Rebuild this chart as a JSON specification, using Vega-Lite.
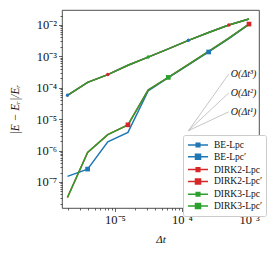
{
  "$schema": "https://vega.github.io/schema/vega-lite/v6.json",
  "autosize": {"type": "none"},
  "width": 197,
  "height": 198,
  "padding": {"left": 62, "top": 10, "right": 13, "bottom": 48},
  "background": "white",
  "config": {
    "view": {"stroke": "#222", "strokeWidth": 0.8},
    "font": "Liberation Serif",
    "axis": {"domain": false, "grid": false, "labelFont": "Liberation Serif", "titleFont": "Liberation Serif", "tickColor": "#222", "labelColor": "#111", "titleColor": "#111"}
  },
  "datasets": {
    "runs": [
      {"s": "BE-Lpc", "dt": 1.953125e-6, "e": 5.75e-5, "m": 1},
      {"s": "BE-Lpc", "dt": 3.90625e-6, "e": 1.48e-4, "m": 0},
      {"s": "BE-Lpc", "dt": 7.8125e-6, "e": 2.63e-4, "m": 0},
      {"s": "BE-Lpc", "dt": 1.5625e-5, "e": 5.2e-4, "m": 0},
      {"s": "BE-Lpc", "dt": 3.125e-5, "e": 9.5e-4, "m": 0},
      {"s": "BE-Lpc", "dt": 6.25e-5, "e": 1.74e-3, "m": 0},
      {"s": "BE-Lpc", "dt": 1.25e-4, "e": 3.24e-3, "m": 1},
      {"s": "BE-Lpc", "dt": 2.5e-4, "e": 5.75e-3, "m": 0},
      {"s": "BE-Lpc", "dt": 5e-4, "e": 1.0e-2, "m": 0},
      {"s": "BE-Lpc", "dt": 1e-3, "e": 1.55e-2, "m": 0},
      {"s": "BE-Lpc′", "dt": 1.953125e-6, "e": 1.51e-7, "m": 0},
      {"s": "BE-Lpc′", "dt": 3.90625e-6, "e": 2.57e-7, "m": 1},
      {"s": "BE-Lpc′", "dt": 7.8125e-6, "e": 1.9e-6, "m": 0},
      {"s": "BE-Lpc′", "dt": 1.5625e-5, "e": 3.8e-6, "m": 0},
      {"s": "BE-Lpc′", "dt": 3.125e-5, "e": 7.9e-5, "m": 0},
      {"s": "BE-Lpc′", "dt": 6.25e-5, "e": 2.09e-4, "m": 0},
      {"s": "BE-Lpc′", "dt": 1.25e-4, "e": 5.4e-4, "m": 0},
      {"s": "BE-Lpc′", "dt": 2.5e-4, "e": 1.38e-3, "m": 1},
      {"s": "BE-Lpc′", "dt": 5e-4, "e": 3.7e-3, "m": 0},
      {"s": "BE-Lpc′", "dt": 1e-3, "e": 1.05e-2, "m": 0},
      {"s": "DIRK2-Lpc", "dt": 1.953125e-6, "e": 5.75e-5, "m": 0},
      {"s": "DIRK2-Lpc", "dt": 3.90625e-6, "e": 1.48e-4, "m": 0},
      {"s": "DIRK2-Lpc", "dt": 7.8125e-6, "e": 2.63e-4, "m": 1},
      {"s": "DIRK2-Lpc", "dt": 1.5625e-5, "e": 5.2e-4, "m": 0},
      {"s": "DIRK2-Lpc", "dt": 3.125e-5, "e": 9.5e-4, "m": 0},
      {"s": "DIRK2-Lpc", "dt": 6.25e-5, "e": 1.74e-3, "m": 0},
      {"s": "DIRK2-Lpc", "dt": 1.25e-4, "e": 3.24e-3, "m": 0},
      {"s": "DIRK2-Lpc", "dt": 2.5e-4, "e": 5.75e-3, "m": 0},
      {"s": "DIRK2-Lpc", "dt": 5e-4, "e": 1.0e-2, "m": 1},
      {"s": "DIRK2-Lpc", "dt": 1e-3, "e": 1.55e-2, "m": 0},
      {"s": "DIRK2-Lpc′", "dt": 1.953125e-6, "e": 3.2e-8, "m": 0},
      {"s": "DIRK2-Lpc′", "dt": 3.90625e-6, "e": 8.7e-7, "m": 0},
      {"s": "DIRK2-Lpc′", "dt": 7.8125e-6, "e": 3.2e-6, "m": 0},
      {"s": "DIRK2-Lpc′", "dt": 1.5625e-5, "e": 6.6e-6, "m": 1},
      {"s": "DIRK2-Lpc′", "dt": 3.125e-5, "e": 8.5e-5, "m": 0},
      {"s": "DIRK2-Lpc′", "dt": 6.25e-5, "e": 2.14e-4, "m": 0},
      {"s": "DIRK2-Lpc′", "dt": 1.25e-4, "e": 5.6e-4, "m": 0},
      {"s": "DIRK2-Lpc′", "dt": 2.5e-4, "e": 1.45e-3, "m": 0},
      {"s": "DIRK2-Lpc′", "dt": 5e-4, "e": 3.8e-3, "m": 0},
      {"s": "DIRK2-Lpc′", "dt": 1e-3, "e": 1.07e-2, "m": 1},
      {"s": "DIRK3-Lpc", "dt": 1.953125e-6, "e": 5.75e-5, "m": 0},
      {"s": "DIRK3-Lpc", "dt": 3.90625e-6, "e": 1.48e-4, "m": 0},
      {"s": "DIRK3-Lpc", "dt": 7.8125e-6, "e": 2.63e-4, "m": 0},
      {"s": "DIRK3-Lpc", "dt": 1.5625e-5, "e": 5.2e-4, "m": 0},
      {"s": "DIRK3-Lpc", "dt": 3.125e-5, "e": 9.5e-4, "m": 1},
      {"s": "DIRK3-Lpc", "dt": 6.25e-5, "e": 1.74e-3, "m": 0},
      {"s": "DIRK3-Lpc", "dt": 1.25e-4, "e": 3.24e-3, "m": 0},
      {"s": "DIRK3-Lpc", "dt": 2.5e-4, "e": 5.75e-3, "m": 0},
      {"s": "DIRK3-Lpc", "dt": 5e-4, "e": 1.0e-2, "m": 0},
      {"s": "DIRK3-Lpc", "dt": 1e-3, "e": 1.55e-2, "m": 0},
      {"s": "DIRK3-Lpc′", "dt": 1.953125e-6, "e": 3.2e-8, "m": 0},
      {"s": "DIRK3-Lpc′", "dt": 3.90625e-6, "e": 8.7e-7, "m": 0},
      {"s": "DIRK3-Lpc′", "dt": 7.8125e-6, "e": 3.2e-6, "m": 0},
      {"s": "DIRK3-Lpc′", "dt": 1.5625e-5, "e": 6.6e-6, "m": 0},
      {"s": "DIRK3-Lpc′", "dt": 3.125e-5, "e": 8.5e-5, "m": 0},
      {"s": "DIRK3-Lpc′", "dt": 6.25e-5, "e": 2.14e-4, "m": 1},
      {"s": "DIRK3-Lpc′", "dt": 1.25e-4, "e": 5.6e-4, "m": 0},
      {"s": "DIRK3-Lpc′", "dt": 2.5e-4, "e": 1.45e-3, "m": 0},
      {"s": "DIRK3-Lpc′", "dt": 5e-4, "e": 3.8e-3, "m": 0},
      {"s": "DIRK3-Lpc′", "dt": 1e-3, "e": 1.07e-2, "m": 0}
    ],
    "refs": [
      {"o": "1", "dt": 1.25e-4, "e": 4.3e-6},
      {"o": "1", "dt": 5e-4, "e": 1.72e-5},
      {"o": "2", "dt": 1.25e-4, "e": 4.3e-6},
      {"o": "2", "dt": 5e-4, "e": 6.9e-5},
      {"o": "3", "dt": 1.25e-4, "e": 4.3e-6},
      {"o": "3", "dt": 5e-4, "e": 2.75e-4}
    ],
    "reflabels": [
      {"t": "O(Δt¹)", "dt": 5e-4, "e": 1.72e-5},
      {"t": "O(Δt²)", "dt": 5e-4, "e": 6.9e-5},
      {"t": "O(Δt³)", "dt": 5e-4, "e": 2.75e-4}
    ]
  },
  "layer": [
    {
      "data": {"name": "refs"},
      "mark": {"type": "line", "color": "#a0a0a0", "strokeWidth": 0.6},
      "encoding": {
        "x": {"field": "dt", "type": "quantitative"},
        "y": {"field": "e", "type": "quantitative"},
        "detail": {"field": "o"}
      }
    },
    {
      "data": {"name": "reflabels"},
      "mark": {"type": "text", "align": "left", "baseline": "middle", "dx": 2, "fontSize": 10, "fontStyle": "italic", "font": "Liberation Serif", "color": "#111"},
      "encoding": {
        "x": {"field": "dt", "type": "quantitative"},
        "y": {"field": "e", "type": "quantitative"},
        "text": {"field": "t"}
      }
    },
    {
      "data": {"name": "runs"},
      "mark": {"type": "line", "strokeWidth": 1.5},
      "encoding": {
        "x": {
          "field": "dt", "type": "quantitative",
          "scale": {"type": "log", "domain": [1.62e-6, 1.41e-3], "nice": false},
          "axis": {
            "title": "Δt", "titleFontSize": 11, "titleFontStyle": "italic", "titleFontWeight": "normal",
            "titleY": 31, "titleBaseline": "middle",
            "values": [2e-6,3e-6,4e-6,5e-6,6e-6,7e-6,8e-6,9e-6,1e-5,2e-5,3e-5,4e-5,5e-5,6e-5,7e-5,8e-5,9e-5,1e-4,2e-4,3e-4,4e-4,5e-4,6e-4,7e-4,8e-4,9e-4,1e-3],
            "labelExpr": "abs(log(datum.value)/LN10 - round(log(datum.value)/LN10)) > 0.001 ? '' : '10⁻' + ['⁰','¹','²','³','⁴','⁵','⁶','⁷','⁸','⁹'][-round(log(datum.value)/LN10)]",
            "labelOverlap": false, "labelBound": false, "labelFontSize": 12.5, "labelPadding": 2,
            "tickSize": {"condition": {"test": "abs(log(datum.value)/LN10 - round(log(datum.value)/LN10)) < 0.001", "value": 3.5}, "value": 2},
            "tickWidth": 0.7
          }
        },
        "y": {
          "field": "e", "type": "quantitative",
          "scale": {"type": "log", "domain": [1.48e-8, 3.0e-2], "nice": false},
          "axis": {
            "title": "|E − Eᵣ|/Eᵣ", "titleFontSize": 11.5, "titleFontStyle": "italic", "titleFontWeight": "normal",
            "titleX": -47, "titleY": 99, "titleBaseline": "middle", "titleAngle": -90,
            "values": [2e-8,3e-8,4e-8,5e-8,6e-8,7e-8,8e-8,9e-8,1e-7,2e-7,3e-7,4e-7,5e-7,6e-7,7e-7,8e-7,9e-7,1e-6,2e-6,3e-6,4e-6,5e-6,6e-6,7e-6,8e-6,9e-6,1e-5,2e-5,3e-5,4e-5,5e-5,6e-5,7e-5,8e-5,9e-5,1e-4,2e-4,3e-4,4e-4,5e-4,6e-4,7e-4,8e-4,9e-4,1e-3,2e-3,3e-3,4e-3,5e-3,6e-3,7e-3,8e-3,9e-3,1e-2,2e-2],
            "labelExpr": "abs(log(datum.value)/LN10 - round(log(datum.value)/LN10)) > 0.001 ? '' : '10⁻' + ['⁰','¹','²','³','⁴','⁵','⁶','⁷','⁸','⁹'][-round(log(datum.value)/LN10)]",
            "labelOverlap": false, "labelBound": false, "labelFontSize": 12.5, "labelPadding": 2,
            "tickSize": {"condition": {"test": "abs(log(datum.value)/LN10 - round(log(datum.value)/LN10)) < 0.001", "value": 3.5}, "value": 2},
            "tickWidth": 0.7
          }
        },
        "color": {
          "field": "s", "type": "nominal",
          "scale": {
            "domain": ["BE-Lpc", "BE-Lpc′", "DIRK2-Lpc", "DIRK2-Lpc′", "DIRK3-Lpc", "DIRK3-Lpc′"],
            "range": ["#1f77b4", "#1f77b4", "#d62728", "#d62728", "#2ca02c", "#2ca02c"]
          },
          "legend": {
            "title": null, "orient": "none", "legendX": 121, "legendY": 125,
            "symbolType": "M-1,0L3,0",
            "symbolSize": 100, "symbolStrokeWidth": 1.5,
            "labelFont": "Liberation Serif", "labelFontSize": 9.5, "labelColor": "#111", "labelOffset": 15,
            "rowPadding": 0.8, "padding": 4,
            "strokeColor": "#cccccc", "fillColor": "white", "cornerRadius": 2,
            "encode": {
              "symbols": {
                "update": {
                  "shape": {"signal": "indexof(datum.value, '′') >= 0 ? 'M-1,0L3,0M0.5,-0.5L1.5,-0.5L1.5,0.5L0.5,0.5Z' : 'M-1,0L3,0M0.64,-0.36L1.36,-0.36L1.36,0.36L0.64,0.36Z'"},
                  "size": {"value": 100},
                  "fill": {"scale": "color", "field": "value"},
                  "fillOpacity": {"value": 1},
                  "opacity": {"value": 1}
                }
              }
            }
          }
        }
      }
    },
    {
      "data": {"name": "runs"},
      "transform": [{"filter": "datum.m == 1 && indexof(datum.s, '′') < 0"}],
      "mark": {"type": "point", "shape": "circle", "size": 12, "filled": true, "opacity": 1, "strokeWidth": 0},
      "encoding": {
        "x": {"field": "dt", "type": "quantitative"},
        "y": {"field": "e", "type": "quantitative"},
        "color": {"field": "s", "type": "nominal", "legend": null}
      }
    },
    {
      "data": {"name": "runs"},
      "transform": [{"filter": "datum.m == 1 && indexof(datum.s, '′') >= 0"}],
      "mark": {"type": "point", "shape": "square", "size": 22, "filled": true, "opacity": 1, "strokeWidth": 0},
      "encoding": {
        "x": {"field": "dt", "type": "quantitative"},
        "y": {"field": "e", "type": "quantitative"},
        "color": {"field": "s", "type": "nominal", "legend": null}
      }
    }
  ]
}
